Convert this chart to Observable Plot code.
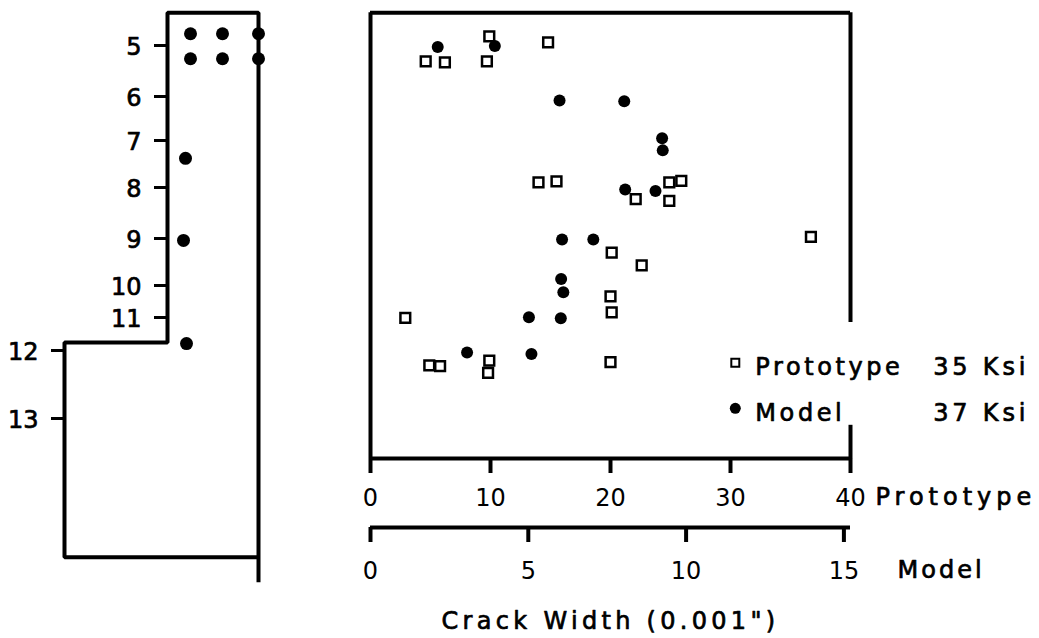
<!DOCTYPE html>
<html>
<head>
<meta charset="utf-8">
<script src="https://cdn.jsdelivr.net/npm/d3@7"></script>
<script src="https://cdn.jsdelivr.net/npm/@observablehq/plot@0.6"></script>
<style>
  html, body { margin: 0; padding: 0; background: #fff; }
  #wrap { position: relative; width: 1039px; height: 638px; overflow: hidden; }
  #wrap svg { position: absolute; top: 0; }
</style>
</head>
<body>
<div id="wrap"></div>
<script>
// ---------- data ----------
const floors = [5, 6, 7, 8, 9, 10, 11, 12, 13];

// Prototype crack widths (0.001 in), with their floor level
const protoWidth = [4.6, 6.2, 9.9, 9.7, 14.8, 14.0, 15.5, 22.1, 24.9, 25.9, 24.9, 36.7, 20.1, 22.6, 20.0, 20.1, 2.9, 4.9, 5.8, 9.9, 9.8, 20.0];
const protoLevel = [5.31, 5.33, 4.82, 5.31, 4.94, 7.89, 7.87, 8.23, 7.89, 7.86, 8.26, 8.97, 9.30, 9.57, 10.34, 10.84, 11.01, 12.22, 12.23, 12.15, 12.33, 12.17];

// Model crack widths (0.001 in), with their floor level
const modelWidth = [2.13, 3.94, 5.99, 8.04, 9.24, 9.26, 8.07, 9.03, 6.07, 7.06, 6.04, 6.11, 5.02, 6.03, 3.06, 5.10];
const modelLevel = [5.03, 5.01, 6.09, 6.11, 6.95, 7.21, 8.04, 8.07, 9.02, 9.02, 9.86, 10.21, 10.99, 11.02, 12.03, 12.05];

// wall elevation sketch (left panel): outline and crack locations, by floor level
const wallX = [25.8, 25.8, 16.7, 16.7, 6.4, 6.4, 25.8];
const wallLevel = [15.38, 4.36, 4.36, 11.76, 11.76, 15.04, 15.04];
const crackX = [19.0, 22.2, 25.8, 19.0, 22.2, 25.8, 18.5, 18.3, 18.6];
const crackLevel = [4.77, 4.77, 4.77, 5.26, 5.26, 5.26, 7.38, 9.04, 11.79];

// axes and legend text
const protoTicks = [0, 10, 20, 30, 40];
const modelTicks = [0, 5, 10, 15];
const legendNames = ["Prototype", "Model"];
const legendStress = ["35 Ksi", "37 Ksi"];
const xTitle = "Crack Width (0.001\")";

// ---------- layout ----------
// floors are unevenly spaced in the drawing: piecewise map floor level -> drawing depth
const floorDepth = [4.5, 9.6, 14.0, 18.7, 23.8, 28.5, 31.7, 35.0, 41.8];
const depth = d3.scaleLinear().domain(floors).range(floorDepth);
const yCfg = () => ({domain: [0, 63.8], range: [0, 638], axis: null});

const modelToProto = 2.63;            // model scale relative to prototype scale
const frameTop = 4.36, frameBottom = 13.59, gapTop = 11.15, gapBottom = 13.10;
const legendRows = [12.18, 12.85];
const legendX = 30.4;
const font = "'DejaVu Sans', sans-serif";
const baseStyle = {fontFamily: font, fontSize: "24px", color: "#000", background: "transparent", overflow: "visible"};
const ink = {fill: "#000", stroke: "#000", strokeWidth: 0.7};
const stepLevel = wallLevel[3];
const edgeOf = f => (f < stepLevel ? wallX[2] : wallX[4]);

const wallPts = wallX.map((x, i) => ({x, y: depth(wallLevel[i])}));
const crackPts = crackX.map((x, i) => ({x, y: depth(crackLevel[i])}));
const protoPts = protoWidth.map((w, i) => ({x: w, y: depth(protoLevel[i])}));
const modelPts = modelWidth.map((w, i) => ({x: w * modelToProto, y: depth(modelLevel[i])}));
const legendPts = legendNames.map((name, i) => ({name, stress: legendStress[i], y: depth(legendRows[i])}));

const left = Plot.plot({
  width: 340, height: 638, margin: 0,
  x: {domain: [0, 34], range: [0, 340], axis: null},
  y: yCfg(),
  style: baseStyle,
  marks: [
    Plot.line(wallPts, {x: "x", y: "y", stroke: "#000", strokeWidth: 4, strokeLinejoin: "miter", strokeLinecap: "square"}),
    Plot.ruleY(floors, {y: d => depth(d), x1: d => edgeOf(d) - 1.3, x2: d => edgeOf(d), stroke: "#000", strokeWidth: 3}),
    Plot.text(floors, {y: d => depth(d), x: d => edgeOf(d), dx: -26, dy: 2, text: d => String(d), textAnchor: "end", ...ink}),
    Plot.dot(crackPts, {x: "x", y: "y", r: 6.5, fill: "#000", stroke: "none"})
  ]
});
left.style.left = "0px";

const right = Plot.plot({
  width: 699, height: 638,
  marginLeft: 30, marginRight: 189, marginTop: 12, marginBottom: 180,
  x: {domain: [0, 40], axis: null},
  y: yCfg(),
  style: baseStyle,
  marks: [
    // frame (the right side is broken by the legend)
    Plot.ruleY([depth(frameTop)], {x1: 0, x2: 40, stroke: "#000", strokeWidth: 4}),
    Plot.ruleX([0], {y1: depth(frameTop), y2: depth(frameBottom), stroke: "#000", strokeWidth: 4}),
    Plot.ruleX([40], {y1: depth(frameTop), y2: depth(gapTop), stroke: "#000", strokeWidth: 4}),
    Plot.ruleX([40], {y1: depth(gapBottom), y2: depth(frameBottom), stroke: "#000", strokeWidth: 4}),
    Plot.ruleY([depth(frameBottom)], {x1: 0, x2: 40, stroke: "#000", strokeWidth: 4}),
    // prototype axis
    Plot.axisX(protoTicks, {anchor: "bottom", label: null, tickSize: 15, tickPadding: 15, strokeWidth: 4, fontSize: 24, fill: "#000", stroke: "#000"}),
    // model axis
    Plot.ruleY([depth(frameBottom)], {x1: 0, x2: 40, dy: 69, stroke: "#000", strokeWidth: 4}),
    Plot.axisX(modelTicks.map(v => v * modelToProto), {anchor: "bottom", label: null, dy: 69, tickFormat: d => String(Math.round(d / modelToProto)), tickSize: 15, tickPadding: 19, strokeWidth: 4, fontSize: 24, fill: "#000", stroke: "#000"}),
    // text marks (order matters for letter spacing below)
    Plot.text(["Prototype"], {x: 40, frameAnchor: "bottom", dx: 25, dy: 46, textAnchor: "start", ...ink}),
    Plot.text(["Model"], {x: 40, frameAnchor: "bottom", dx: 47, dy: 119, textAnchor: "start", ...ink}),
    Plot.text([xTitle], {x: 20, frameAnchor: "bottom", dy: 170, textAnchor: "middle", ...ink}),
    // data
    Plot.dot(protoPts, {x: "x", y: "y", symbol: "square", r: 5.5, stroke: "#000", strokeWidth: 2.5, fill: "#fff"}),
    Plot.dot(modelPts, {x: "x", y: "y", r: 6, fill: "#000", stroke: "none"}),
    // legend
    Plot.dot(legendPts.slice(0, 1), {x: () => legendX, y: "y", symbol: "square", r: 4.5, stroke: "#000", strokeWidth: 2, fill: "#fff"}),
    Plot.dot(legendPts.slice(1), {x: () => legendX, y: "y", r: 5.5, fill: "#000", stroke: "none"}),
    Plot.text(legendPts, {x: () => legendX, y: "y", text: "name", dx: 20, dy: 5, textAnchor: "start", ...ink}),
    Plot.text(legendPts, {x: () => legendX, y: "y", text: "stress", dx: 198, dy: 5, textAnchor: "start", ...ink})
  ]
});
right.style.left = "340px";

// letter spacing of the lettering (Plot's text mark has no option for it)
const spacing = ["5px", "3px", "4.3px", "3.6px", "3.8px"];
d3.select(right).selectAll("g[aria-label='text']").each(function (d, i) {
  if (spacing[i]) d3.select(this).selectAll("text").style("letter-spacing", spacing[i]);
});

const wrap = document.getElementById("wrap");
wrap.appendChild(left);
wrap.appendChild(right);
</script>
</body>
</html>
